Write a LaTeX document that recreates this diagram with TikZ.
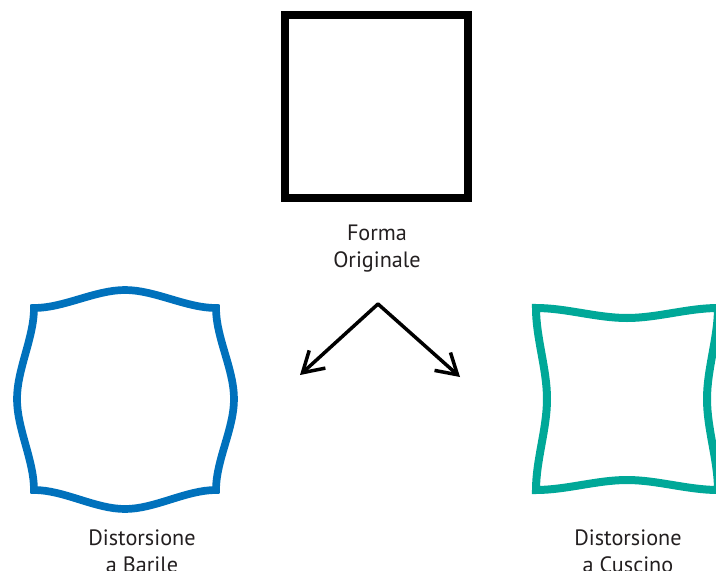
\documentclass[tikz,border=0pt]{standalone}
\usepackage{fontspec}
\setmainfont{PT Sans}
\usetikzlibrary{arrows.meta}
\definecolor{barrelblue}{RGB}{0,113,188}
\definecolor{pinteal}{RGB}{0,168,152}
\definecolor{captiongray}{RGB}{35,31,32}
\tikzset{
  caption/.style={align=center, anchor=base, inner sep=0pt,
    font=\fontsize{22.2}{27}\selectfont, text=captiongray},
  shapeline/.style={line width=#1, line join=miter},
  splitarrow/.style={line width=3.5pt, line cap=round,
    -{Straight Barb[length=20pt,width=24pt]}}
}
\begin{document}
\begin{tikzpicture}[x=1pt,y=-1pt]
  \useasboundingbox (0,0) rectangle (716,571);
  \clip (0,0) rectangle (716,571);

  % original square
  \draw[shapeline=8.3pt] (285,15) rectangle (468,198);
  % multi-line captions sit on the baseline of their last line
  \node[caption] (orig) at (377,267) {Forma\\Originale};

  % barrel distortion: every side bulges outwards
  \draw[shapeline=7.7pt, barrelblue]
    (34,308) .. controls (64,308) and (95,290) .. (125,290)
             .. controls (155,290) and (186,308) .. (216,308)
             .. controls (216,338) and (234,369) .. (234,399)
             .. controls (234,429) and (216,460) .. (216,490)
             .. controls (186,490) and (155,509) .. (125,509)
             .. controls (95,509) and (64,490) .. (34,490)
             .. controls (34,460) and (17,429) .. (17,399)
             .. controls (17,369) and (34,338) .. (34,308) -- cycle;
  \node[caption] (barrel) at (142,572) {Distorsione\\a Barile};

  % pincushion distortion: every side caves inwards
  \draw[shapeline=8pt, pinteal]
    (536,308) .. controls (566,308) and (597,318) .. (627,318)
              .. controls (657,318) and (688,308) .. (718,308)
              .. controls (718,338) and (707,369) .. (707,399)
              .. controls (707,429) and (718,460) .. (718,490)
              .. controls (688,490) and (657,480) .. (627,480)
              .. controls (597,480) and (566,490) .. (536,490)
              .. controls (536,460) and (547,429) .. (547,399)
              .. controls (547,369) and (536,338) .. (536,308) -- cycle;
  \node[caption] (pincushion) at (628,572) {Distorsione\\a Cuscino};

  % the two outcomes
  \coordinate (apex) at (378,304);
  \coordinate (toleft) at (300,375);
  \coordinate (toright) at (460,377);
  \draw[splitarrow] (apex) -- (toleft);
  \draw[splitarrow] (apex) -- (toright);
\end{tikzpicture}
\end{document}
